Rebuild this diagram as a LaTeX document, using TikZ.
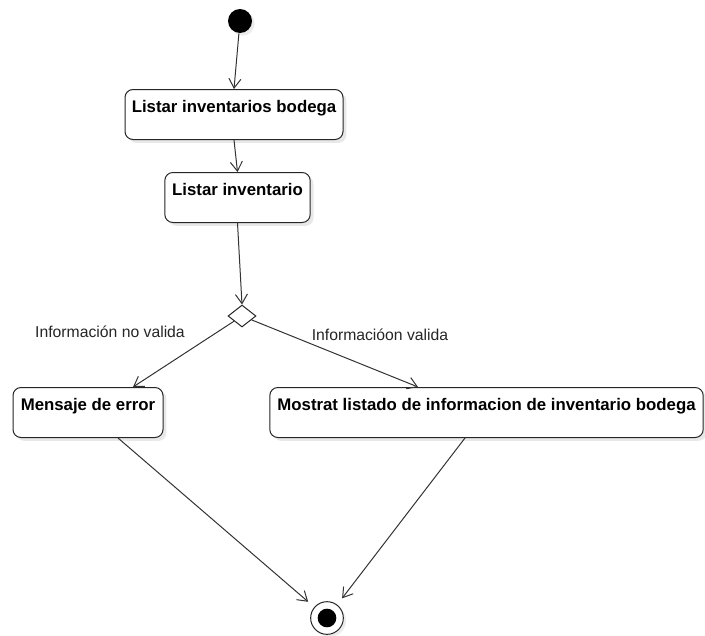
\documentclass[tikz,border=0pt]{standalone}
\usepackage{fontspec}
\setmainfont{Liberation Sans}
\usetikzlibrary{arrows.meta,shapes.geometric,shadows,calc}
\begin{document}
\begin{tikzpicture}[x=0.75pt,y=-0.75pt,
  line width=0.75pt,
  actbox/.style={draw=black!85, rounded corners=6pt, fill=white,
    font=\fontsize{12.6pt}{14pt}\selectfont\bfseries,
    inner xsep=3pt, inner ysep=0pt, text height=17.5pt, text depth=20pt,
    anchor=north,
    drop shadow={opacity=0.18, shadow xshift=2.5pt, shadow yshift=-2.5pt}},
  flow/.style={draw=black!80, -{Straight Barb[length=7pt,width=9pt]}},
  lbl/.style={font=\fontsize{11.8pt}{14pt}\selectfont, text=black!85},
]
\useasboundingbox (0,0) rectangle (705,635);
% start
\node[circle, fill=black, minimum size=18pt, inner sep=0pt,
  drop shadow={opacity=0.15, shadow xshift=2pt, shadow yshift=-2pt}] (start) at (240,21) {};
% activities
\node[actbox, minimum width=163.5pt] (b1) at (234,89) {Listar inventarios bodega};
\node[actbox, minimum width=109pt] (b2) at (237.5,172) {Listar inventario};
% decision
\node[diamond, draw=black!85, fill=white, inner sep=0pt, minimum width=21pt, minimum height=16.5pt] (dec) at (242,316) {};
\node[actbox, minimum width=112.5pt] (err) at (88,387) {Mensaje de error};
\node[actbox, minimum width=325pt] (ok) at (486.5,387) {Mostrat listado de informacion de inventario bodega};
% end
\node[circle, draw=black!85, fill=white, minimum size=24.5pt, inner sep=0pt,
  drop shadow={opacity=0.15, shadow xshift=2pt, shadow yshift=-2pt}] (fin) at (327,618) {};
\node[circle, fill=black, minimum size=14pt, inner sep=0pt] (finin) at (fin) {};
% labels
\node[lbl] (l1) at (110,332) {Información no valida};
\node[lbl] (l2) at (380,335) {Informacióon valida};
% connectors
\coordinate (e1) at ($(err.north)+(45,0)$);
\coordinate (e2) at ($(ok.north)+(-68.5,0)$);
\coordinate (s1) at ($(err.south)+(30,0)$);
\coordinate (s2) at ($(ok.south)+(-21.5,0)$);
\draw[flow] (start) -- (b1.north);
\draw[flow] (b1.south) -- (b2.north);
\draw[flow] (b2.south) -- (dec.north);
\draw[flow] (dec) -- (e1);
\draw[flow] (dec) -- (e2);
\draw[flow, shorten >=6pt] (s1) -- (fin);
\draw[flow, shorten >=6pt] (s2) -- (fin);
\end{tikzpicture}
\end{document}
